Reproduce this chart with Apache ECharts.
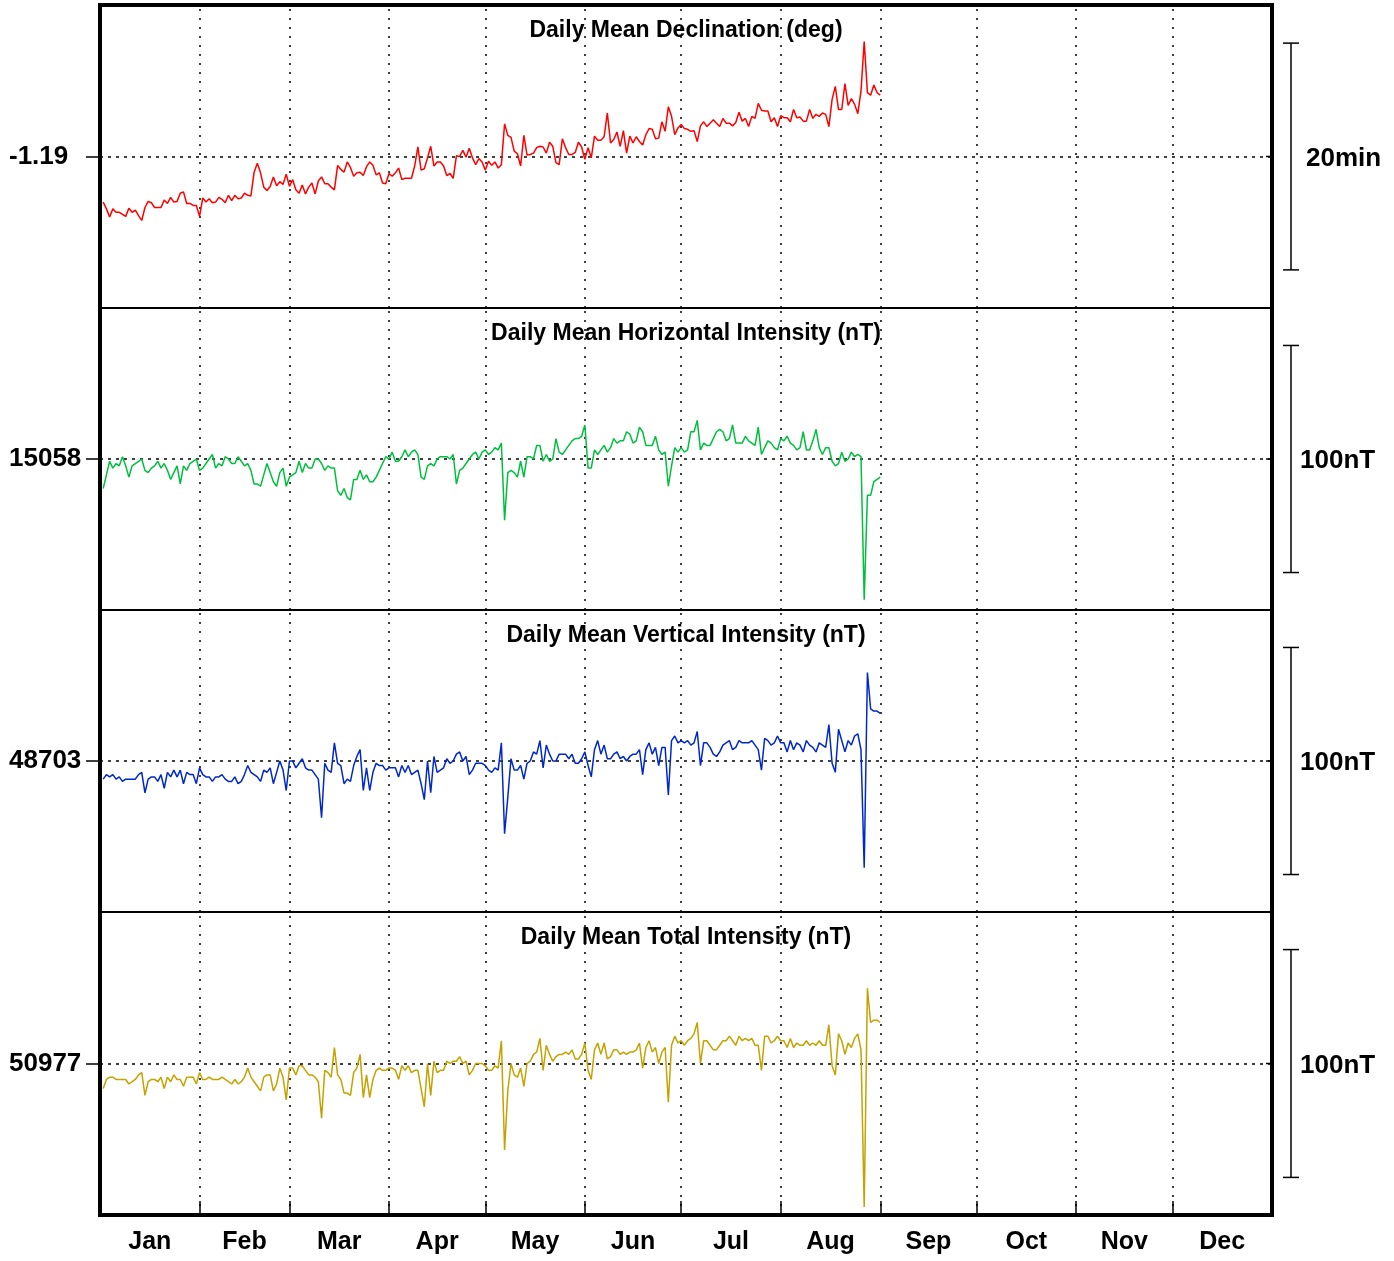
<!DOCTYPE html>
<html>
<head>
<meta charset="utf-8">
<script src="https://cdn.jsdelivr.net/npm/echarts@6/dist/echarts.min.js"></script>
<style>
  html, body { margin: 0; background: #fff; }
  #chart { width: 1394px; height: 1261px; }
</style>
</head>
<body>
<div id="chart"></div>
<script>
// day of year for each daily mean (Jan 1 .. Aug 31)
var days = [];
for (var k = 1; k <= 243; k++) days.push(k);

var monthNames = ['Jan', 'Feb', 'Mar', 'Apr', 'May', 'Jun', 'Jul', 'Aug', 'Sep', 'Oct', 'Nov', 'Dec'];
var monthStarts = [0, 31, 59, 90, 120, 151, 181, 212, 243, 273, 304, 334, 365];

// Daily Mean Declination (deg)
var declination = [
  -1.257,-1.267,-1.279,-1.267,-1.272,-1.272,-1.275,-1.278,-1.266,-1.272,
  -1.269,-1.277,-1.284,-1.265,-1.256,-1.258,-1.265,-1.265,-1.265,-1.254,
  -1.259,-1.250,-1.257,-1.256,-1.244,-1.242,-1.259,-1.259,-1.262,-1.262,
  -1.278,-1.251,-1.257,-1.252,-1.258,-1.257,-1.250,-1.253,-1.258,-1.247,
  -1.255,-1.247,-1.252,-1.251,-1.244,-1.247,-1.248,-1.213,-1.200,-1.214,
  -1.235,-1.240,-1.234,-1.220,-1.233,-1.227,-1.231,-1.216,-1.234,-1.224,
  -1.239,-1.244,-1.232,-1.245,-1.235,-1.229,-1.245,-1.226,-1.220,-1.230,
  -1.230,-1.235,-1.239,-1.203,-1.209,-1.213,-1.198,-1.206,-1.219,-1.214,
  -1.213,-1.218,-1.205,-1.198,-1.203,-1.217,-1.214,-1.229,-1.230,-1.215,
  -1.219,-1.214,-1.207,-1.224,-1.222,-1.222,-1.222,-1.204,-1.176,-1.210,
  -1.208,-1.192,-1.175,-1.204,-1.198,-1.198,-1.204,-1.218,-1.215,-1.222,
  -1.189,-1.190,-1.181,-1.191,-1.178,-1.192,-1.202,-1.193,-1.198,-1.210,
  -1.197,-1.203,-1.198,-1.207,-1.202,-1.142,-1.159,-1.162,-1.182,-1.186,
  -1.204,-1.159,-1.188,-1.187,-1.185,-1.177,-1.175,-1.176,-1.185,-1.169,
  -1.175,-1.199,-1.202,-1.164,-1.177,-1.187,-1.187,-1.184,-1.169,-1.176,
  -1.194,-1.177,-1.192,-1.160,-1.166,-1.166,-1.161,-1.126,-1.170,-1.165,
  -1.154,-1.175,-1.152,-1.185,-1.160,-1.170,-1.161,-1.168,-1.173,-1.158,
  -1.149,-1.150,-1.164,-1.163,-1.139,-1.153,-1.117,-1.131,-1.158,-1.148,
  -1.143,-1.149,-1.150,-1.153,-1.152,-1.168,-1.145,-1.139,-1.146,-1.141,
  -1.136,-1.141,-1.146,-1.134,-1.141,-1.141,-1.145,-1.140,-1.125,-1.138,
  -1.134,-1.146,-1.131,-1.134,-1.112,-1.122,-1.123,-1.123,-1.139,-1.133,
  -1.146,-1.130,-1.133,-1.133,-1.139,-1.121,-1.133,-1.132,-1.138,-1.138,
  -1.121,-1.134,-1.128,-1.131,-1.126,-1.128,-1.146,-1.106,-1.087,-1.121,
  -1.121,-1.083,-1.115,-1.105,-1.113,-1.127,-1.094,-1.021,-1.096,-1.100,
  -1.085,-1.096,-1.100
];

// Daily Mean Horizontal Intensity (nT)
var horizontal = [
  15045,15051,15057,15054,15056,15055,15059,15055,15050,15055,
  15056,15057,15058,15053,15052,15054,15055,15057,15054,15056,
  15053,15049,15052,15055,15047,15055,15053,15056,15057,15058,
  15053,15054,15056,15058,15060,15054,15056,15055,15059,15058,
  15056,15056,15059,15057,15055,15056,15053,15047,15047,15046,
  15051,15056,15052,15048,15046,15052,15054,15046,15050,15051,
  15052,15057,15052,15056,15054,15054,15058,15058,15056,15053,
  15055,15054,15054,15044,15042,15045,15041,15040,15049,15049,
  15053,15049,15051,15048,15048,15050,15053,15056,15059,15058,
  15061,15057,15057,15059,15062,15059,15061,15062,15060,15050,
  15049,15055,15056,15055,15058,15059,15059,15059,15058,15060,
  15047,15053,15054,15056,15058,15060,15061,15058,15061,15062,
  15060,15061,15063,15062,15065,15031,15052,15053,15052,15050,
  15057,15050,15059,15059,15058,15064,15064,15057,15060,15057,
  15058,15067,15061,15060,15062,15064,15066,15067,15067,15068,
  15073,15054,15054,15062,15060,15062,15064,15061,15063,15067,
  15065,15066,15066,15070,15069,15065,15066,15072,15070,15064,
  15064,15064,15068,15062,15060,15061,15046,15055,15063,15061,
  15063,15061,15062,15070,15070,15075,15062,15065,15064,15064,
  15067,15070,15071,15070,15066,15067,15073,15065,15065,15065,
  15068,15066,15065,15064,15072,15060,15063,15066,15065,15063,
  15062,15067,15066,15068,15065,15064,15062,15063,15070,15062,
  15062,15066,15071,15063,15060,15063,15063,15057,15055,15056,
  15061,15057,15058,15061,15059,15060,15059,14996,15042,15042,
  15048,15049,15050
];

// Daily Mean Vertical Intensity (nT)
var vertical = [
  48695,48697,48696,48697,48695,48696,48694,48695,48695,48695,
  48695,48697,48698,48689,48695,48696,48696,48694,48697,48691,
  48698,48696,48699,48696,48699,48693,48698,48697,48697,48693,
  48700,48697,48696,48696,48694,48696,48696,48697,48695,48694,
  48694,48696,48693,48694,48697,48701,48698,48697,48696,48694,
  48699,48698,48700,48693,48698,48703,48699,48690,48703,48703,
  48700,48702,48704,48700,48699,48699,48697,48695,48678,48702,
  48699,48698,48711,48702,48701,48693,48695,48694,48701,48705,
  48708,48690,48700,48690,48698,48702,48701,48701,48699,48700,
  48700,48700,48696,48701,48698,48701,48697,48698,48699,48693,
  48686,48703,48689,48705,48698,48699,48700,48704,48702,48703,
  48706,48707,48703,48705,48697,48699,48702,48702,48702,48701,
  48699,48698,48700,48699,48711,48671,48687,48704,48699,48699,
  48701,48695,48702,48703,48707,48706,48712,48700,48710,48706,
  48703,48703,48706,48706,48706,48704,48706,48702,48702,48704,
  48707,48701,48696,48708,48712,48706,48710,48704,48704,48706,
  48707,48704,48705,48703,48705,48706,48706,48708,48697,48708,
  48711,48706,48709,48701,48709,48709,48688,48712,48714,48711,
  48712,48711,48712,48710,48711,48716,48701,48711,48711,48709,
  48706,48705,48707,48710,48711,48712,48708,48709,48712,48711,
  48711,48711,48712,48710,48708,48699,48713,48712,48710,48711,
  48714,48711,48711,48707,48712,48708,48711,48710,48707,48712,
  48710,48709,48707,48711,48710,48709,48719,48702,48698,48717,
  48712,48707,48712,48710,48714,48715,48708,48656,48742,48726,
  48725,48725,48724
];

// Daily Mean Total Intensity (nT)
var total = [
  50966,50970,50971,50971,50970,50970,50970,50970,50968,50969,
  50970,50972,50973,50963,50969,50970,50970,50969,50971,50966,
  50971,50969,50972,50970,50970,50967,50971,50971,50971,50968,
  50973,50970,50970,50971,50970,50970,50970,50971,50970,50969,
  50968,50970,50968,50969,50971,50975,50971,50969,50967,50965,
  50971,50972,50972,50965,50968,50975,50971,50961,50975,50975,
  50972,50976,50976,50974,50972,50972,50971,50969,50953,50974,
  50973,50971,50984,50972,50970,50964,50964,50963,50973,50975,
  50981,50962,50972,50962,50970,50974,50975,50974,50974,50975,
  50975,50974,50970,50976,50974,50976,50973,50974,50974,50966,
  50958,50977,50963,50978,50973,50974,50974,50978,50977,50978,
  50978,50980,50977,50978,50972,50974,50977,50977,50977,50976,
  50974,50974,50976,50975,50987,50939,50965,50977,50972,50971,
  50975,50967,50977,50978,50981,50982,50988,50974,50985,50981,
  50978,50980,50981,50981,50982,50981,50983,50979,50979,50981,
  50986,50974,50970,50983,50986,50981,50986,50979,50980,50983,
  50983,50981,50982,50981,50982,50982,50983,50986,50975,50984,
  50987,50982,50984,50977,50982,50984,50960,50985,50989,50986,
  50987,50985,50987,50988,50990,50995,50977,50987,50987,50985,
  50983,50983,50985,50987,50987,50989,50987,50985,50989,50987,
  50988,50987,50988,50985,50985,50974,50989,50989,50986,50987,
  50989,50987,50987,50984,50988,50984,50986,50985,50985,50987,
  50985,50986,50985,50987,50985,50985,50994,50976,50972,50990,
  50987,50981,50986,50984,50988,50990,50983,50914,51010,50995,
  50996,50996,50995
];

var titles = [
  'Daily Mean Declination (deg)',
  'Daily Mean Horizontal Intensity (nT)',
  'Daily Mean Vertical Intensity (nT)',
  'Daily Mean Total Intensity (nT)'
];
var centers = [-1.19, 15058, 48703, 50977];
var centerLabels = ['-1.19', '15058', '48703', '50977'];
var halfRange = [0.2227, 66.5, 66.5, 66.5];      // half of each panel's span
var scaleHalf = [10 / 60, 50, 50, 50];           // half of the scale bar
var scaleLabels = ['20min', '100nT', '100nT', '100nT'];
var colors = ['#ff0000', '#00bf3f', '#0028c8', '#c4a200'];
var allSeries = [declination, horizontal, vertical, total];

var FONT = '"Liberation Sans", Arial, Helvetica, sans-serif';
var tops = [5, 308, 610, 912];
var heights = [303, 302, 302, 303];
var gridLeft = 100, gridRight = 1272;
var scaleTextX = [1306, 1300, 1300, 1300];

var monthMids = [];
for (var m = 0; m < 12; m++) monthMids.push((monthStarts[m] + monthStarts[m + 1]) / 2);

var chart = echarts.init(document.getElementById('chart'));

var grids = [], xAxes = [], yAxes = [], series = [], graphics = [];
for (var i = 0; i < 4; i++) {
  grids.push({
    left: gridLeft, width: gridRight - gridLeft, top: tops[i], height: heights[i],
    show: true, borderColor: '#000', borderWidth: 2, backgroundColor: 'transparent'
  });
  var bottom = (i === 3);
  xAxes.push({
    gridIndex: i, type: 'value', min: 0, max: 365,
    axisLine: { show: false },
    splitLine: { show: false },
    axisTick: bottom ? {
      show: true, inside: true, length: 14,
      customValues: monthStarts.slice(1, 12),
      lineStyle: { color: '#000', width: 1.5 }
    } : { show: false },
    axisLabel: bottom ? {
      show: true, margin: 15,
      customValues: monthMids,
      formatter: function (v) { return monthNames[monthMids.indexOf(v)]; },
      color: '#000', fontSize: 25, fontWeight: 'bold', fontFamily: FONT
    } : { show: false }
  });
  (function (idx) {
    yAxes.push({
      gridIndex: idx, type: 'value',
      min: centers[idx] - halfRange[idx], max: centers[idx] + halfRange[idx],
      axisLine: { show: false },
      splitLine: { show: false },
      axisTick: {
        show: true, length: 14, customValues: [centers[idx]],
        lineStyle: { color: '#000', width: 1.5 }
      },
      axisLabel: {
        show: true, customValues: [centers[idx]],
        formatter: function () { return centerLabels[idx]; },
        align: 'left', margin: 91, padding: [5, 0, 0, 0],
        color: '#000', fontSize: 26, fontWeight: 'bold', fontFamily: FONT
      }
    });
  })(i);

  var dotted = { color: '#000', width: 1.5, type: [2, 7] };
  var lines = monthStarts.slice(1, 12).map(function (s) { return { xAxis: s }; });
  lines.push({ yAxis: centers[i], lineStyle: { color: '#000', width: 1.5, type: [3, 5] } });

  series.push({
    type: 'line', xAxisIndex: i, yAxisIndex: i,
    data: days.map(function (d, j) { return [d, allSeries[i][j]]; }),
    showSymbol: false, symbol: 'none',
    lineStyle: { color: colors[i], width: 1.5 },
    itemStyle: { color: colors[i] },
    z: 3,
    markLine: {
      silent: true, symbol: ['none', 'none'], animation: false,
      label: { show: false },
      lineStyle: dotted,
      data: lines,
      z: 1
    }
  });

  graphics.push({
    type: 'text', x: (gridLeft + gridRight) / 2, y: tops[i] + 26, z: 10,
    style: {
      text: titles[i], fill: '#000', font: 'bold 23px ' + FONT,
      textAlign: 'center', textVerticalAlign: 'middle'
    }
  });
}

// heavy outer frame
graphics.push({
  type: 'rect', z: 20,
  shape: { x: gridLeft, y: tops[0], width: gridRight - gridLeft, height: tops[3] + heights[3] - tops[0] },
  style: { fill: 'none', stroke: '#000', lineWidth: 4 }
});

chart.setOption({
  animation: false,
  backgroundColor: '#fff',
  grid: grids,
  xAxis: xAxes,
  yAxis: yAxes,
  series: series,
  graphic: graphics
});

// scale bars on the right, placed through each panel's y scale
var barX = 1291;
for (var p = 0; p < 4; p++) {
  var yTop = chart.convertToPixel({ yAxisIndex: p }, centers[p] + scaleHalf[p]);
  var yBot = chart.convertToPixel({ yAxisIndex: p }, centers[p] - scaleHalf[p]);
  var yMid = chart.convertToPixel({ yAxisIndex: p }, centers[p]);
  var st = { stroke: '#000', lineWidth: 1.5 };
  graphics.push(
    { type: 'line', shape: { x1: barX, y1: yTop, x2: barX, y2: yBot }, style: st },
    { type: 'line', shape: { x1: barX - 8, y1: yTop, x2: barX + 8, y2: yTop }, style: st },
    { type: 'line', shape: { x1: barX - 8, y1: yBot, x2: barX + 8, y2: yBot }, style: st },
    { type: 'line', shape: { x1: gridRight - 6, y1: yMid, x2: gridRight, y2: yMid }, style: st },
    {
      type: 'text', x: scaleTextX[p], y: yMid + 2,
      style: {
        text: scaleLabels[p], fill: '#000', font: 'bold 26px ' + FONT,
        textAlign: 'left', textVerticalAlign: 'middle'
      }
    }
  );
}
chart.setOption({ graphic: graphics });
</script>
</body>
</html>
